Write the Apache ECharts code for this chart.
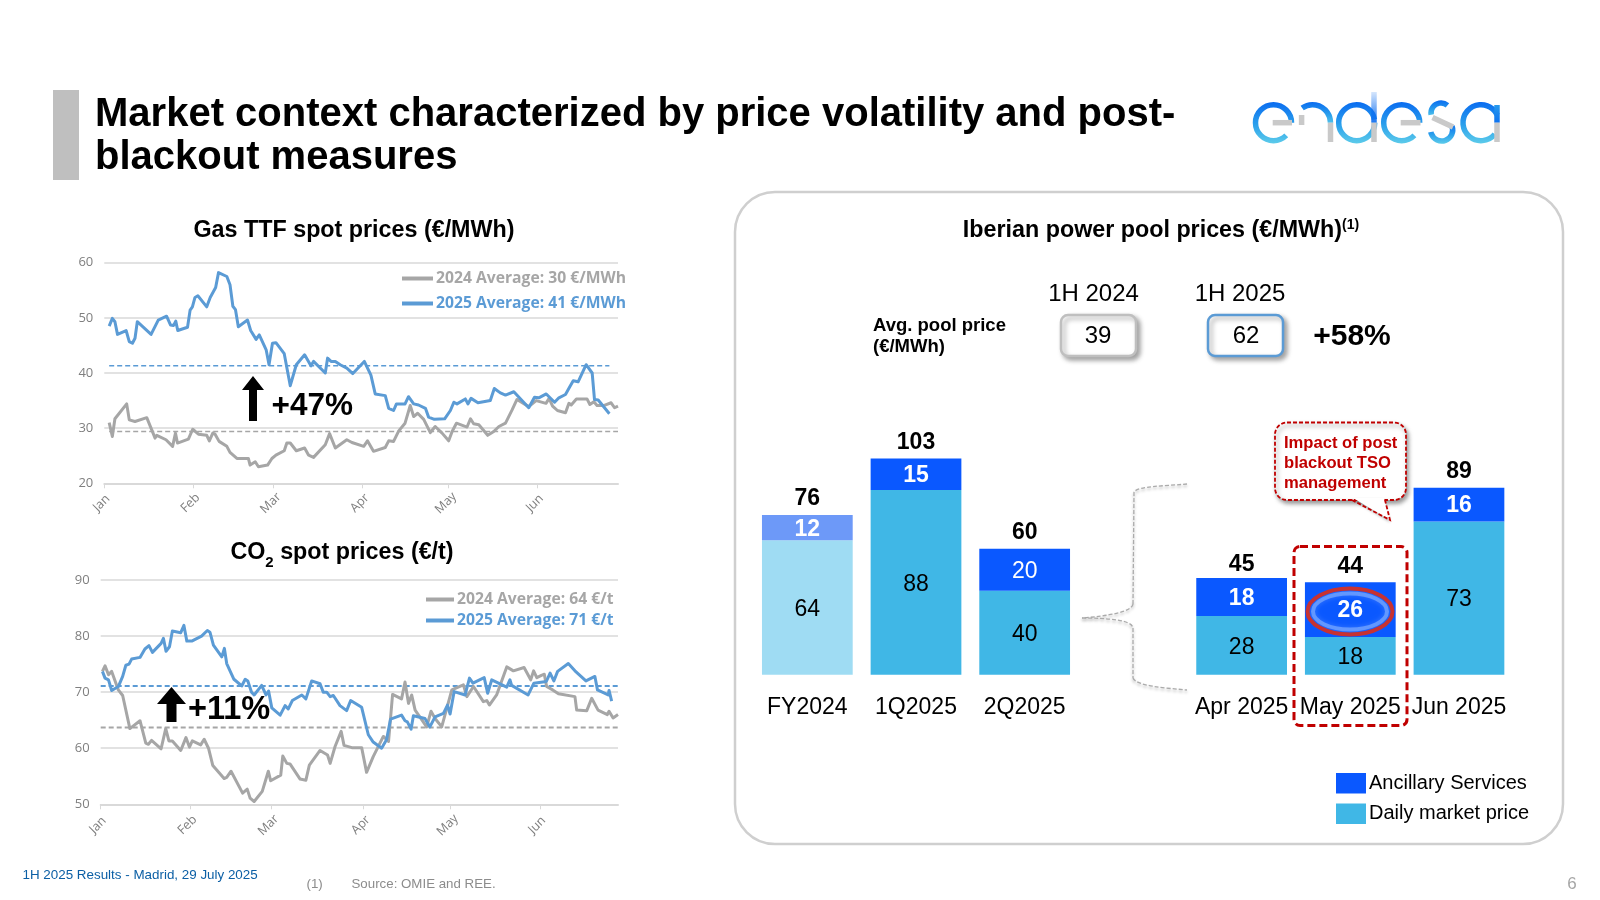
<!DOCTYPE html>
<html><head><meta charset="utf-8">
<style>html,body{margin:0;padding:0;background:#fff}#c{width:1600px;height:900px}</style>
<script src="https://cdn.jsdelivr.net/npm/echarts@6/dist/echarts.min.js"></script>
</head><body><div id="c"></div>
<script>
// ---- data ----
const gas2025=[[1.7,48.5],[2.8,49.9],[3.7,49.3],[4.6,47],[7.6,47.7],[8.7,45.7],[9.8,45.4],[10.7,46.3],[11.5,49.3],[16.3,47],[18.8,49.6],[21.7,50.3],[23.1,48.7],[24.1,48.6],[24.9,49.4],[25.6,47.7],[29,48.3],[29.9,51.4],[30.7,52],[31.6,53.7],[32.6,54],[35.7,52],[36.9,53.7],[38.8,55.5],[39.8,58.2],[42.7,57.5],[43.8,56],[44.8,52.1],[45.7,51.5],[46.7,48.4],[49.9,49.6],[51,47.7],[52.9,46.1],[54,46.9],[56.4,44.2],[57.4,41.5],[58.6,45.4],[59.8,45.5],[62.7,43.5],[64.8,37.7],[66.9,41.5],[69.8,43.3],[72,41.3],[72.9,42.1],[77,40],[77.8,42.7],[79,42.1],[80.5,42.1],[82.2,41.5],[84.5,40.9],[86.6,39.9],[90.6,42.1],[92.9,39.6],[94.4,36.2],[97.9,35.9],[99.1,33.6],[100.8,33.2],[101.8,34.4],[104.8,34.4],[106,35.7],[107.8,34.4],[109.5,34.2],[111.9,33.6],[113,32],[115,31.6],[118.6,31.7],[120.6,33.2],[121.8,34.7],[122.9,34.4],[125.8,35.3],[126.7,34.4],[127.8,35.4],[130.2,34.6],[134.5,35],[135.9,37.2],[138,36.4],[139.8,36],[142.7,36.6],[147.9,33.7],[149.9,35.6],[151.4,35.5],[154,36.2],[156.9,34.7],[158.4,35.5],[160.7,36.1],[162.2,37.5],[163.4,38.6],[165.1,38.4],[167.9,41.5],[170,40],[170.8,35.2],[172.1,35.1],[176,32.6]];
const gas2024=[[1.7,31],[2.8,28.5],[3.7,31.7],[7.8,34.4],[8.7,31.5],[10.7,31.2],[14.8,31.9],[17.7,28.2],[18.3,28.7],[21.5,27.9],[23.8,26.7],[24.8,29.1],[25.5,27.3],[29.3,28],[30.8,29.8],[32.8,28.9],[35.7,28.7],[36.6,27.7],[37.8,29.1],[38.6,28.9],[40,27.6],[42.7,26.7],[43.8,25.6],[46.2,24.5],[50.2,24.5],[50.8,23.3],[52.6,23.9],[53.7,23],[56.9,23.3],[58.4,24.5],[59.8,25.1],[62.7,25.9],[63.6,27.3],[64.8,27.3],[66.9,25.9],[69.8,26.4],[71.2,25.1],[72.9,24.7],[77,27],[78.5,29],[80.5,26.4],[84.5,27.9],[86.3,27.4],[90.4,26.7],[91.7,27.7],[93.8,25.8],[97.9,26.5],[99.1,27.7],[100.8,27.6],[102.6,29.5],[104.8,30.9],[106.6,34.1],[107.8,32.1],[109.2,32.7],[111.3,31.6],[113.6,29.2],[115.3,30.3],[117.7,29.1],[120,27.7],[121.2,29.4],[122.7,30.9],[126.4,30.2],[127.6,31.7],[128.7,30.8],[130.5,30.6],[133.6,28.7],[135.7,29.4],[137.5,30.3],[139.8,30.9],[142.1,33.3],[143.8,35.2],[147.9,33.9],[150.5,35],[153.9,34.5],[155,35.4],[156.2,34],[157.9,33.2],[160.7,32.8],[161.9,34.5],[162.7,34.2],[164.5,35.3],[168.2,35.3],[169.2,34.3],[170.6,34.8],[171.7,34.1],[174,34.1],[176.6,34.6],[177.8,33.7],[179,34]];
const co22025=[[.6,73.7],[1.5,72.5],[2.7,72.2],[3.8,70.3],[6.1,71],[7.6,72.8],[8.7,74.8],[9.8,75],[10.7,75.9],[13.6,76.2],[15.3,77.7],[16.7,78.3],[17.9,77.1],[20.9,78.7],[21.7,79.6],[22.6,77.3],[23.8,78.1],[24.8,80.9],[27.7,80.6],[28.8,81.9],[29.8,79.1],[31.5,79.1],[34.9,80],[36.9,81],[37.8,80.7],[39,78.4],[41.9,76.3],[42.8,77.8],[43.6,75.1],[46.1,72.3],[48.8,71.1],[50,72.3],[50.9,72],[52.2,70],[53.1,69.5],[55.7,71.2],[57.2,69.5],[58.1,70.2],[59.2,67.2],[62.1,65.9],[63.8,67.6],[64.9,67],[66.3,68.5],[69.6,69.5],[71,68.8],[73,72],[75.9,71.5],[77,70],[78.2,70],[79.4,69.2],[80.5,69.4],[82.8,67.6],[85.1,66.7],[86.5,68.5],[90.3,67.3],[92.6,62.4],[94.3,61.1],[97.2,60],[98.9,61.5],[100.3,65.2],[104.1,65.9],[105.3,64.9],[106.1,64.7],[107.4,63.4],[108.2,65.8],[112.2,65.3],[113.9,63.8],[115.7,65.6],[118.6,66.2],[120,67.7],[120.9,66.1],[122.3,70.1],[126.1,69.5],[127.6,72.5],[128.8,71.6],[132.7,72.6],[133.9,69.8],[134.5,69.5],[135.3,72.2],[140.5,70.9],[141.6,72.2],[142.2,71.2],[147.9,69.5],[149.9,71.6],[154.2,71.9],[155.5,73.4],[156.8,72],[158.1,73.7],[161.8,75.1],[164.1,73.8],[167.9,72],[171,72.8],[171.9,70.4],[175.6,69.5],[175.9,70.3],[176.8,68.4]];
const co22024=[[.6,73.7],[1.5,74.7],[2.7,73.1],[3.8,73.7],[6.1,70.4],[7.6,69.4],[10.1,63.5],[13.6,64.9],[15.6,60.9],[16.5,60.7],[17.6,61.4],[20.9,59.9],[22.5,63.5],[23.6,61.3],[24.8,61.3],[27.7,59.6],[29.5,61.9],[30.7,60.2],[31.7,61.3],[34.6,60.6],[35.8,61.6],[37.3,60],[38.8,56.9],[42.7,54.6],[43.6,54.8],[45.1,55.9],[49.1,52],[50.7,52.7],[51.7,51.1],[53.1,50.5],[55.9,52.3],[58,55.9],[58.8,54.2],[62.3,55.2],[63,58.6],[64.4,57.3],[65.5,57.2],[69,54.5],[71,54.3],[72.2,57],[75.9,59.6],[78.5,58.8],[79.4,57.3],[81.1,60.3],[83.2,63],[84.2,60.5],[86.9,60.1],[90.3,60.1],[92,55.7],[94.3,58.5],[97.8,62.1],[99.6,61.2],[101,69.6],[104.1,68.8],[105.3,71.8],[106.5,68],[107.6,69.5],[108.8,66.8],[112.8,63.8],[114.3,66.6],[115.7,65.3],[118,63.8],[121.5,70.4],[125.5,71.3],[126.7,69.2],[129,71],[132.4,68.3],[133.6,68.5],[134.5,67.7],[137,69.5],[140.5,74.5],[142.8,73.8],[146.5,74.4],[148.8,72.2],[149.8,73.8],[150.9,72.6],[152.5,73],[153.5,73.2],[154.3,71],[156.4,70.4],[158.4,69.7],[164.1,69.2],[164.7,66.8],[168.2,66.7],[169.9,68.9],[172.1,66.8],[175.3,66],[175.9,66.6],[177.3,65.4],[179,66]];
const monthNames=['Jan','Feb','Mar','Apr','May','Jun'];
const gasMonthDays=[0,31,59,90,120,151];
const co2MonthDays=[0,31,59,91,121,152];
const gasAvg2025=41.3, gasAvg2024=29.4, co2Avg2025=71.1, co2Avg2024=63.7;
const periodCats=['FY2024','1Q2025','2Q2025'];
const periodDaily=[64,88,40];
const periodAnc=[12,15,20];
const periodTotal=[76,103,60];
const monthCats=['Apr 2025','May 2025','Jun 2025'];
const monthDaily=[28,18,73];
const monthAnc=[18,26,16];
const monthTotal=[45,44,89];

// ---- style ----
const BLUE='#5B9BD5',GREY='#A6A6A6',DAILY='#40B7E6',ANC='#0A58FF',RED='#C00000';
const SANS='"Liberation Sans",Arial,sans-serif', OPEN='"Open Sans",sans-serif';

function lineAxes(gridIndex,ticks,yMin,yMax,margin){
  return {
    x:{type:'value',gridIndex,min:0,max:179,splitLine:{show:false},
      axisLine:{show:true,onZero:false,lineStyle:{color:'#D9D9D9',width:2}},
      axisTick:{show:true,length:5,customValues:ticks,lineStyle:{color:'#D9D9D9',width:1}},
      axisLabel:{customValues:ticks,rotate:45,align:'center',verticalAlign:'middle',padding:[0,8,0,0],margin,color:'#7F7F7F',fontFamily:OPEN,fontSize:12.5,
        hideOverlap:false,formatter:v=>monthNames[ticks.indexOf(v)]||''}},
    y:{type:'value',gridIndex,min:yMin,max:yMax,interval:10,
      axisLine:{show:false},axisTick:{show:false},
      splitLine:{lineStyle:{color:'#E2E2E2',width:2}},
      axisLabel:{color:'#7F7F7F',fontFamily:OPEN,fontSize:13,margin:11}}
  };
}
const a0=lineAxes(0,gasMonthDays,20,60,17), a1=lineAxes(1,co2MonthDays,50,90,18);
function barAxes(gridIndex,cats){
  return {
    x:{type:'category',gridIndex,data:cats,axisLine:{show:false},axisTick:{show:false},
      axisLabel:{interval:0,hideOverlap:false,color:'#000',fontFamily:SANS,fontSize:23,margin:21}},
    y:{type:'value',gridIndex,min:0,max:107,show:false,splitLine:{show:false}}
  };
}
const a2=barAxes(2,periodCats), a3=barAxes(3,monthCats);

function ln(name,color,data,xi){
  return {name,type:'line',xAxisIndex:xi,yAxisIndex:xi,data,symbol:'none',smooth:false,
    lineStyle:{color,width:3,join:'round'},itemStyle:{color},silent:true,z:4};
}
function avg(name,color,val,x0,x1,xi,w){
  return {name,type:'line',xAxisIndex:xi,yAxisIndex:xi,data:[[x0,val],[x1,val]],symbol:'none',
    lineStyle:{color,width:w,type:[5,3]},itemStyle:{color},silent:true,z:3};
}
const whiteBold={show:true,position:'inside',offset:[0,1.5],color:'#fff',fontWeight:'bold',fontFamily:SANS,fontSize:23};
const blackReg={show:true,position:'inside',offset:[0,2],color:'#000',fontFamily:SANS,fontSize:23};
function bars(xi,total,dailyItems,ancItems){
  return [
    {name:'Daily market price',type:'bar',stack:'s'+xi,xAxisIndex:xi,yAxisIndex:xi,barWidth:'83.5%',
      data:dailyItems,itemStyle:{color:DAILY},label:blackReg,silent:true},
    {name:'Ancillary Services',type:'bar',stack:'s'+xi,xAxisIndex:xi,yAxisIndex:xi,barWidth:'83.5%',
      data:ancItems,itemStyle:{color:ANC},label:whiteBold,silent:true},
    {name:'Total '+xi,type:'line',xAxisIndex:xi,yAxisIndex:xi,data:total,symbol:'circle',symbolSize:1,silent:true,z:6,
      itemStyle:{color:'rgba(0,0,0,0)'},lineStyle:{color:'rgba(0,0,0,0)',width:0},
      label:{show:true,position:'top',distance:4,color:'#000',fontWeight:'bold',fontFamily:SANS,fontSize:23}}
  ];
}
const periodDailyItems=periodDaily.map((v,i)=>i===0?{value:v,itemStyle:{color:'#9FDCF3'}}:v);
const periodAncItems=periodAnc.map((v,i)=>i===0?{value:v,itemStyle:{color:'#6D99F8'}}:
  i===2?{value:v,label:{fontWeight:'normal'}}:v);

// ---- logo drawn as gradient strokes ----
const logoGrad={type:'linear',x:0,y:0,x2:0,y2:1,colorStops:[{offset:0,color:'#0A6CF0'},{offset:.55,color:'#2BA0EC'},{offset:1,color:'#5CCBEA'}]};
const stemGrad={type:'linear',x:0,y:0,x2:0,y2:1,colorStops:[{offset:0,color:'rgba(10,108,240,0.1)'},{offset:1,color:'#0A6CF0'}]};
function arc(cx,cy,r,a,b,stroke){
  return {type:'arc',z:5,silent:true,shape:{cx,cy,r,startAngle:a*Math.PI/180,endAngle:b*Math.PI/180,clockwise:true},
    style:{stroke:stroke||logoGrad,lineWidth:5.5,fill:null,lineCap:'butt'}};
}
function seg(x1,y1,x2,y2,stroke,w){
  return {type:'line',z:6,silent:true,shape:{x1,y1,x2,y2},style:{stroke:stroke||'#C9C9C9',lineWidth:w||5.5}};
}
const logo=[
  arc(1273.5,122.7,18,45,360), seg(1272.7,122.7,1292,122.7),
  arc(1312.5,122.7,18,235,360), seg(1301.6,115,1301.6,125), seg(1330.5,122.7,1330.5,142),
  arc(1356.7,122.7,18,0,350),
  seg(1374,92,1374,122.7,stemGrad), seg(1374,122.7,1374,142),
  arc(1401.7,122.7,18,45,360), seg(1400.7,122.7,1420.5,122.7),
  arc(1441,113,10,170,310), arc(1441.7,130,11,-20,170), seg(1432.5,117.5,1453,127),
  arc(1481,122.7,18,40,335), seg(1497,105,1497,122.7,{type:'linear',x:0,y:0,x2:0,y2:1,colorStops:[{offset:0,color:'#2BA0EC'},{offset:1,color:'#0A6CF0'}]}), seg(1497,122.7,1497,142)
];

// ---- text helper ----
function tx(text,x,y,size,opt){
  opt=opt||{};
  return {type:'text',x,y,z:12,silent:true,style:Object.assign({text,font:(opt.bold?'bold ':'')+size+'px '+(opt.font||SANS),
    fill:opt.color||'#000',textAlign:opt.align||'left',textVerticalAlign:'middle'},opt.rich?{rich:opt.rich}:{})};
}
const rT={a:{font:'bold 23.3px '+SANS,fill:'#000'},s:{font:'bold 15px '+SANS,fill:'#000',verticalAlign:'bottom',padding:[0,0,-6,0]},u:{font:'bold 14px '+SANS,fill:'#000',verticalAlign:'top',padding:[-1,0,0,0]}};
const braceStyle={fill:null,stroke:'#ABABAB',lineWidth:1.3,lineDash:[4,2],shadowColor:'rgba(0,0,0,.3)',shadowBlur:3,shadowOffsetY:2};
function bez(x1,y1,cpx1,cpy1,cpx2,cpy2,x2,y2){
  return {type:'bezierCurve',z:2,silent:true,shape:{x1,y1,cpx1,cpy1,cpx2,cpy2,x2,y2},style:braceStyle};
}
function braceLine(x1,y1,x2,y2){
  return {type:'line',z:2,silent:true,shape:{x1,y1,x2,y2},style:braceStyle};
}

const graphics=[
  {type:'rect',z:1,silent:true,shape:{x:53,y:90,width:26,height:90},style:{fill:'#BFBFBF'}},
  tx('Market context characterized by price volatility and post-',95,115,40,{bold:1}),
  tx('blackout measures',95,158,40,{bold:1}),
  {type:'rect',z:0,silent:true,shape:{x:735,y:192,width:828,height:652,r:40},style:{fill:'#fff',stroke:'#CFCFCF',lineWidth:2.5}},
  tx('Gas TTF spot prices (€/MWh)',354,231,23.3,{bold:1,align:'center'}),
  tx('{a|CO}{s|2}{a| spot prices (€/t)}',342,552.5,23.3,{bold:1,align:'center',rich:rT}),
  tx('{a|Iberian power pool prices (€/MWh)}{u|(1)}',1161,231,23.3,{bold:1,align:'center',rich:rT}),
  // arrows
  {type:'polygon',z:6,silent:true,shape:{points:[[253,376],[264,390],[257,390],[257,421],[249,421],[249,390],[242,390]]},style:{fill:'#000'}},
  tx('+47%',271.5,406,31.5,{bold:1}),
  {type:'polygon',z:6,silent:true,shape:{points:[[171.5,687],[186,704],[176.5,704],[176.5,722],[166.5,722],[166.5,704],[157,704]]},style:{fill:'#000'}},
  tx('+11%',188,710,32.5,{bold:1}),
  // avg pool block
  tx('1H 2024',1093.5,294,24,{align:'center'}),
  tx('1H 2025',1240,294,24,{align:'center'}),
  tx('Avg. pool price',873,325.5,18.5,{bold:1}),
  tx('(€/MWh)',873,347,18.5,{bold:1}),
  {type:'rect',z:3,silent:true,shape:{x:1061,y:315,width:75,height:41,r:7},style:{fill:'#fff',stroke:'#BFBFBF',lineWidth:2.5,shadowColor:'rgba(0,0,0,.35)',shadowBlur:5,shadowOffsetX:3,shadowOffsetY:3}},
  {type:'rect',z:3,silent:true,shape:{x:1208,y:315,width:75,height:41,r:7},style:{fill:'#fff',stroke:BLUE,lineWidth:2.5,shadowColor:'rgba(0,0,0,.35)',shadowBlur:5,shadowOffsetX:3,shadowOffsetY:3}},
  tx('39',1098,336,24,{align:'center'}),
  tx('62',1246,336,24,{align:'center'}),
  tx('+58%',1352,337,30,{bold:1,align:'center'}),
  // brace
  bez(1187,484,1165,486,1138,486,1134,492),
  braceLine(1134,492,1133,604),
  bez(1133,604,1132,612,1108,616,1082,618),
  bez(1082,618,1108,618,1132,620,1133,628),
  braceLine(1133,628,1133,678),
  bez(1133,678,1136,686,1165,688,1187,690),
  // May highlight
  {type:'ellipse',z:7,silent:true,shape:{cx:1350,cy:611.5,rx:37,ry:18},style:{fill:null,stroke:'rgba(190,220,255,.4)',lineWidth:4,shadowColor:'rgba(255,255,255,.5)',shadowBlur:5}},
  {type:'ellipse',z:8,silent:true,shape:{cx:1350,cy:611.5,rx:42.5,ry:23},style:{fill:null,stroke:'#C73232',lineWidth:4}},
  {type:'rect',z:9,silent:true,shape:{x:1294,y:546.5,width:113,height:179,r:6},style:{fill:null,stroke:RED,lineWidth:3,lineDash:[8,4]}},
  // callout
  {type:'rect',z:9,silent:true,shape:{x:1275,y:422.5,width:131,height:77.5,r:12},
    style:{fill:'#fff',stroke:RED,lineWidth:1.8,lineDash:[4,2],shadowColor:'rgba(0,0,0,.4)',shadowBlur:4,shadowOffsetX:2,shadowOffsetY:3}},
  {type:'polygon',z:9,silent:true,shape:{points:[[1353,498],[1384,498],[1390,520]]},style:{fill:'#fff',shadowColor:'rgba(0,0,0,.3)',shadowBlur:3,shadowOffsetY:2}},
  {type:'polyline',z:10,silent:true,shape:{points:[[1352,500],[1390,520],[1385,500]]},style:{fill:null,stroke:RED,lineWidth:1.8,lineDash:[4,2]}},
  tx('Impact of post',1284,443,16.6,{bold:1,color:RED}),
  tx('blackout TSO',1284,463,16.6,{bold:1,color:RED}),
  tx('management',1284,483,16.6,{bold:1,color:RED}),
  // footer
  tx('1H 2025 Results - Madrid, 29 July 2025',22.5,875,13.4,{color:'#0B5FA5'}),
  tx('(1)',306.5,884,13.3,{color:'#8C8C8C'}),
  tx('Source: OMIE and REE.',351.5,884,13.3,{color:'#8C8C8C'}),
  tx('6',1572,884,17,{color:'#A6A6A6',align:'center'})
].concat(logo);

const chart=echarts.init(document.getElementById('c'),null,{renderer:'canvas'});
chart.setOption({
  animation:false,backgroundColor:'#fff',
  grid:[
    {left:104.3,width:513.7,top:262.7,height:220.6},
    {left:100.7,width:517.3,top:580,height:224.3},
    {left:753,width:326,top:450,height:224.7},
    {left:1187.3,width:326,top:450,height:224.7}
  ],
  xAxis:[a0.x,a1.x,a2.x,a3.x],
  yAxis:[a0.y,a1.y,a2.y,a3.y],
  legend:[
    {left:402,top:269,padding:0,orient:'vertical',itemGap:6,itemWidth:31,itemHeight:4,icon:'rect',selectedMode:false,itemStyle:{borderWidth:0},
      textStyle:{fontFamily:OPEN,fontWeight:'bold',fontSize:15.7,padding:[0,0,0,-2],lineHeight:19},
      data:[{name:'2024 Average: 30 €/MWh',textStyle:{color:GREY}},{name:'2025 Average: 41 €/MWh',textStyle:{color:BLUE}}]},
    {left:426,top:590,padding:0,orient:'vertical',itemGap:2,itemWidth:28,itemHeight:4,icon:'rect',selectedMode:false,itemStyle:{borderWidth:0},
      textStyle:{fontFamily:OPEN,fontWeight:'bold',fontSize:15.7,padding:[0,0,0,-2],lineHeight:19},
      data:[{name:'2024 Average: 64 €/t',textStyle:{color:GREY}},{name:'2025 Average: 71 €/t',textStyle:{color:BLUE}}]},
    {left:1336,top:773,padding:0,orient:'vertical',itemGap:10,itemWidth:30,itemHeight:20.5,icon:'rect',selectedMode:false,
      textStyle:{fontFamily:SANS,fontSize:20,color:'#000',padding:[2,0,0,-2]},
      data:['Ancillary Services','Daily market price']}
  ],
  tooltip:{show:false},
  series:[
    ln('2024 Average: 30 €/MWh',GREY,gas2024,0),
    ln('2025 Average: 41 €/MWh',BLUE,gas2025,0),
    avg('Gas avg 2024',GREY,gasAvg2024,1.7,179,0,1.5),
    avg('Gas avg 2025',BLUE,gasAvg2025,1.7,176,0,1.5),
    ln('2024 Average: 64 €/t',GREY,co22024,1),
    ln('2025 Average: 71 €/t',BLUE,co22025,1),
    avg('CO2 avg 2024',GREY,co2Avg2024,0,179,1,2),
    avg('CO2 avg 2025',BLUE,co2Avg2025,0,179,1,2),
    ...bars(2,periodTotal,periodDailyItems,periodAncItems),
    ...bars(3,monthTotal,monthDaily,monthAnc)
  ],
  graphic:{elements:graphics}
});
</script></body></html>
